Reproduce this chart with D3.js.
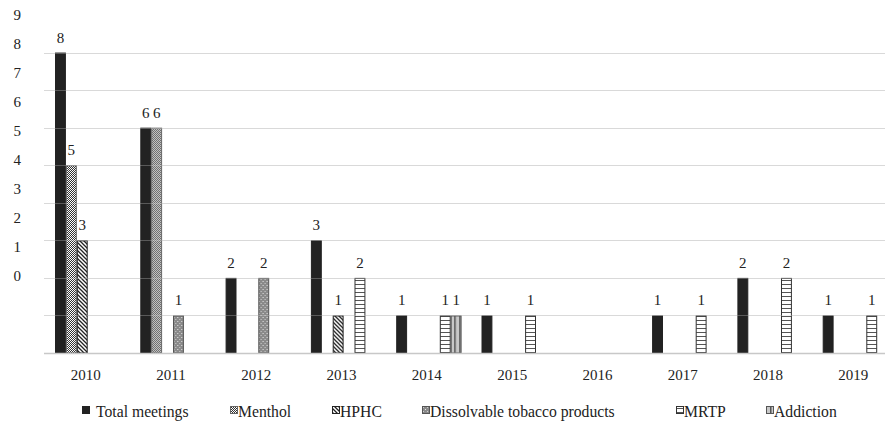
<!DOCTYPE html>
<html>
<head>
<meta charset="utf-8">
<script src="https://cdn.jsdelivr.net/npm/d3@7"></script>
<style>
  html, body { margin: 0; padding: 0; background: #fff; }
  svg text { font-family: 'Liberation Serif', 'Times New Roman', Tinos, Times !important; }
</style>
</head>
<body>
<script>
// ---- data ----
const years = ["2010","2011","2012","2013","2014","2015","2016","2017","2018","2019"];
const seriesNames = ["Total meetings","Menthol","HPHC","Dissolvable tobacco products","MRTP","Addiction"];
const totalMeetings = [8,6,2,3,1,1,0,1,2,1];
const menthol       = [5,6,0,0,0,0,0,0,0,0];
const hphc          = [3,0,0,1,0,0,0,0,0,0];
const dissolvable   = [0,1,2,0,0,0,0,0,0,0];
const mrtp          = [0,0,0,2,1,1,0,1,2,1];
const addiction     = [0,0,0,0,1,0,0,0,0,0];
const yTickLabels   = [0,1,2,3,4,5,6,7,8,9];
const seriesValues  = [totalMeetings, menthol, hphc, dissolvable, mrtp, addiction];

// ---- layout ----
const FONT = "'Liberation Serif'";
const W = 887, H = 428;
const svg = d3.select("body").append("svg").attr("width", W).attr("height", H)
  .style("display", "block").attr("font-family", "Liberation Serif");
const defs = svg.append("defs");

function pat(id, w, h, build) {
  const p = defs.append("pattern").attr("id", id).attr("patternUnits", "userSpaceOnUse")
    .attr("width", w).attr("height", h);
  build(p);
}
pat("p-menthol", 2, 2, p => {
  p.append("rect").attr("width", 2).attr("height", 2).attr("fill", "#fff");
  p.append("rect").attr("width", 1).attr("height", 1).attr("fill", "#333");
  p.append("rect").attr("x", 1).attr("y", 1).attr("width", 1).attr("height", 1).attr("fill", "#333");
});
pat("p-hphc", 4, 4, p => {
  p.append("rect").attr("width", 4).attr("height", 4).attr("fill", "#fff");
  p.append("path").attr("d", "M-1,-1 L5,5 M-1,3 L1,5 M3,-1 L5,1").attr("stroke", "#222").attr("stroke-width", 1.3);
});
pat("p-diss", 4, 4, p => {
  p.append("rect").attr("width", 4).attr("height", 4).attr("fill", "#8a8a8a");
  p.append("rect").attr("x", 1).attr("y", 1).attr("width", 1).attr("height", 1).attr("fill", "#e8e8e8");
  p.append("rect").attr("x", 3).attr("y", 3).attr("width", 1).attr("height", 1).attr("fill", "#d0d0d0");
});
pat("p-mrtp", 4, 4, p => {
  p.append("rect").attr("width", 4).attr("height", 4).attr("fill", "#fff");
  p.append("rect").attr("y", 0).attr("width", 4).attr("height", 1).attr("fill", "#555");
});
pat("p-add", 5, 5, p => {
  p.append("rect").attr("width", 5).attr("height", 5).attr("fill", "#c8c8c8");
  p.append("rect").attr("x", 0).attr("width", 1.5).attr("height", 5).attr("fill", "#555");
});

const fills   = ["#222222", "url(#p-menthol)", "url(#p-hphc)", "url(#p-diss)", "url(#p-mrtp)", "url(#p-add)"];
const strokes = ["#222222", "#666", "#222", "#555", "#333", "#555"];

const x0 = d3.scaleBand().domain(years).range([43, 896]).padding(0);
const x1 = d3.scaleBand().domain(seriesNames).range([12, 77.4]).padding(0);
const y  = d3.scaleLinear().domain([0, 9]).range([353, 15]);
const yLab = d3.scaleLinear().domain([0, 9]).range([276, 15]);

const gridVals = d3.range(1, 9);
svg.append("g").selectAll("line").data(gridVals).join("line")
  .attr("x1", 44).attr("x2", 885)
  .attr("y1", d => Math.round(y(d)) + 0.5).attr("y2", d => Math.round(y(d)) + 0.5)
  .attr("stroke", "#d9d9d9").attr("stroke-width", 1);

const groups = svg.append("g").selectAll("g").data(years).join("g")
  .attr("transform", d => `translate(${x0(d)},0)`);

const rowsFor = i => seriesNames.map((s, k) => ({ s, k, v: seriesValues[k][i] })).filter(d => d.v > 0);

groups.selectAll("rect").data((yr, i) => rowsFor(i))
  .join("rect")
  .attr("x", d => x1(d.s) + 0.5)
  .attr("y", d => y(d.v) + 0.5)
  .attr("width", x1.bandwidth() - 1)
  .attr("height", d => y(0) - y(d.v) - 0.5)
  .attr("fill", d => fills[d.k])
  .attr("stroke", d => strokes[d.k])
  .attr("stroke-width", 1);

svg.append("g").selectAll("line").data(gridVals).join("line")
  .attr("x1", 44).attr("x2", 885)
  .attr("y1", d => Math.round(y(d)) + 0.5).attr("y2", d => Math.round(y(d)) + 0.5)
  .attr("stroke", "#d9d9d9").attr("stroke-opacity", 0.3).attr("stroke-width", 1);

svg.append("line").attr("x1", 44).attr("x2", 885)
  .attr("y1", Math.round(y(0)) + 0.5).attr("y2", Math.round(y(0)) + 0.5)
  .attr("stroke", "#c8c8c8").attr("stroke-width", 1.3);

const valRows = [];
years.forEach((yr, i) => rowsFor(i).forEach(r => valRows.push({ yr, ...r })));
svg.selectAll("text.val").data(valRows)
  .join("text").attr("class", "val")
  .attr("x", d => x0(d.yr) + x1(d.s) + x1.bandwidth() / 2)
  .attr("y", d => y(d.v) - 10)
  .attr("text-anchor", "middle")
  .attr("fill", "#222")
  .attr("font-family", "Liberation Serif")
  .style("font-family", FONT).style("font-size", "15px")
  .text(d => d.v);

const yAxis = d3.axisLeft(yLab).tickValues(yTickLabels).tickSize(0).tickFormat(d3.format("d"));
const gy = svg.append("g").attr("transform", "translate(21,0)").call(yAxis);
gy.attr("font-family", "Liberation Serif").attr("font-size", 15);
gy.select(".domain").remove();
gy.selectAll("text").attr("x", 0).attr("text-anchor", "end").attr("fill", "#222")
  .attr("font-family", "Liberation Serif")
  .style("font-family", FONT).style("font-size", "15px");

const xAxis = d3.axisBottom(x0).tickSize(0);
const gx = svg.append("g").attr("transform", "translate(0,366)").call(xAxis);
gx.attr("font-family", "Liberation Serif").attr("font-size", 15);
gx.select(".domain").remove();
gx.selectAll("text").attr("dy", "0.71em").attr("fill", "#222")
  .attr("font-family", "Liberation Serif")
  .style("font-family", FONT).style("font-size", "15px");

const legendX = [82, 230, 332, 422, 676, 766];
const legendTextOffset = [14, 8, 8, 8, 8, 8];
svg.selectAll("rect.leg").data(seriesNames).join("rect").attr("class", "leg")
  .attr("x", (d, i) => legendX[i] + 0.5).attr("y", 406.5).attr("width", 7).attr("height", 7)
  .attr("fill", (d, i) => fills[i]).attr("stroke", (d, i) => strokes[i]);
svg.selectAll("text.leg").data(seriesNames).join("text").attr("class", "leg")
  .attr("x", (d, i) => legendX[i] + legendTextOffset[i]).attr("y", 417)
  .attr("fill", "#222")
  .attr("font-family", "Liberation Serif")
  .style("font-family", FONT).style("font-size", "15.7px").text(d => d);
</script>
</body>
</html>
